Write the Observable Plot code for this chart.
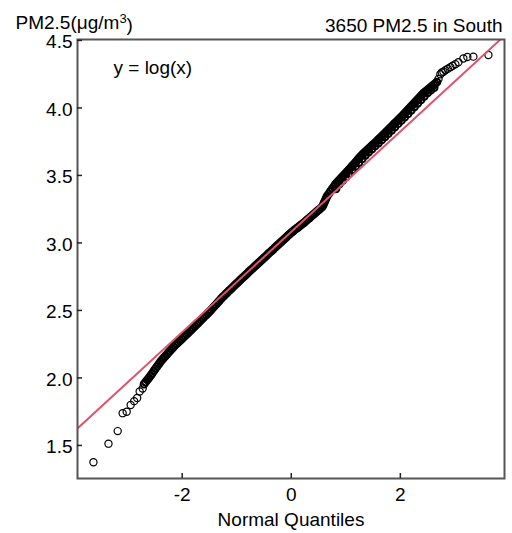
<!DOCTYPE html>
<html><head><meta charset="utf-8">
<script src="https://cdn.jsdelivr.net/npm/d3@7"></script>
<script src="https://cdn.jsdelivr.net/npm/@observablehq/plot@0.6"></script>
<style>body{margin:0;background:#fff;}</style>
</head><body><div id="chart"></div>
<script>
// Titles and labels
const yTitleMain = "PM2.5(μg/m";
const yTitleSup = "3";
const yTitleEnd = ")";
const mainTitle = "3650 PM2.5 in South";
const xTitle = "Normal Quantiles";
const noteText = "y = log(x)";

// Axis ticks
const xTicks = [-2, 0, 2];
const yTicks = [1.5, 2.0, 2.5, 3.0, 3.5, 4.0, 4.5];
const xDomain = [-3.92, 3.91];
const yDomain = [1.255, 4.507];

// Lower tail points (theoretical quantile, log PM2.5)
const lowX = [-3.628, -3.352, -3.183, -3.092, -3.018, -2.945, -2.881, -2.826, -2.780, -2.725];
const lowY = [1.375, 1.513, 1.606, 1.739, 1.750, 1.799, 1.828, 1.851, 1.899, 1.921];

// Dense central band
const bandX = [-2.70,-2.67,-2.64,-2.61,-2.58,-2.55,-2.52,-2.49,-2.46,-2.43,-2.40,-2.37,-2.34,-2.31,-2.28,-2.25,-2.22,-2.19,-2.16,-2.13,-2.10,-2.07,-2.04,-2.01,-1.98,-1.95,-1.92,-1.89,-1.86,-1.83,-1.80,-1.77,-1.74,-1.71,-1.68,-1.65,-1.62,-1.59,-1.56,-1.53,-1.50,-1.47,-1.44,-1.41,-1.38,-1.35,-1.32,-1.29,-1.26,-1.23,-1.20,-1.17,-1.14,-1.11,-1.08,-1.05,-1.02,-0.99,-0.96,-0.93,-0.90,-0.87,-0.84,-0.81,-0.78,-0.75,-0.72,-0.69,-0.66,-0.63,-0.60,-0.57,-0.54,-0.51,-0.48,-0.45,-0.42,-0.39,-0.36,-0.33,-0.30,-0.27,-0.24,-0.21,-0.18,-0.15,-0.12,-0.09,-0.06,-0.03,0.00,0.03,0.06,0.09,0.12,0.15,0.18,0.21,0.24,0.27,0.30,0.33,0.36,0.39,0.42,0.45,0.48,0.51,0.54,0.57,0.585,0.60,0.615,0.63,0.645,0.66,0.69,0.72,0.75,0.78,0.81,0.84,0.87,0.90,0.93,0.96,0.99,1.02,1.05,1.08,1.11,1.14,1.17,1.20,1.23,1.26,1.29,1.32,1.35,1.38,1.41,1.44,1.47,1.50,1.53,1.56,1.59,1.62,1.65,1.68,1.71,1.74,1.77,1.80,1.83,1.86,1.89,1.92,1.95,1.98,2.01,2.04,2.07,2.10,2.13,2.16,2.19,2.22,2.25,2.28,2.31,2.34,2.37,2.40,2.43,2.46,2.49,2.52,2.55,2.58,2.61,2.64,2.67];
const bandY = [1.954,1.970,1.985,2.001,2.017,2.034,2.052,2.069,2.086,2.102,2.119,2.133,2.148,2.162,2.175,2.189,2.202,2.216,2.229,2.243,2.254,2.266,2.277,2.288,2.300,2.311,2.323,2.334,2.346,2.358,2.370,2.382,2.394,2.406,2.418,2.431,2.443,2.455,2.467,2.479,2.491,2.504,2.518,2.531,2.544,2.558,2.571,2.585,2.598,2.610,2.622,2.634,2.646,2.657,2.669,2.681,2.693,2.704,2.716,2.728,2.740,2.751,2.762,2.773,2.785,2.796,2.807,2.818,2.830,2.841,2.852,2.863,2.875,2.886,2.897,2.908,2.920,2.931,2.942,2.953,2.965,2.976,2.987,2.998,3.010,3.021,3.032,3.043,3.055,3.066,3.077,3.086,3.096,3.105,3.114,3.124,3.133,3.143,3.153,3.164,3.174,3.184,3.195,3.205,3.216,3.226,3.237,3.247,3.257,3.268,3.281,3.295,3.308,3.322,3.336,3.349,3.366,3.384,3.401,3.418,3.435,3.448,3.461,3.474,3.487,3.500,3.513,3.526,3.539,3.553,3.567,3.580,3.594,3.608,3.622,3.636,3.649,3.662,3.673,3.684,3.695,3.706,3.718,3.729,3.740,3.751,3.763,3.774,3.786,3.798,3.810,3.822,3.834,3.846,3.858,3.871,3.883,3.895,3.907,3.919,3.931,3.943,3.956,3.969,3.982,3.995,4.008,4.021,4.034,4.047,4.060,4.073,4.086,4.098,4.111,4.121,4.131,4.141,4.151,4.161,4.171,4.181,4.191];

// Lower-right edge of the thick upper band
const edgeX = [0.82,0.88,0.94,1.00,1.06,1.12,1.18,1.24,1.30,1.36,1.42,1.48,1.54,1.60,1.66,1.72,1.78,1.84,1.90,1.96,2.02,2.08,2.14,2.20,2.26,2.32,2.38,2.44,2.50,2.56,2.62];
const edgeY = [3.401,3.435,3.461,3.487,3.513,3.539,3.567,3.594,3.622,3.649,3.673,3.695,3.718,3.740,3.763,3.786,3.810,3.834,3.858,3.883,3.907,3.931,3.956,3.982,4.008,4.034,4.060,4.086,4.111,4.131,4.151];

// Upper tail points
const highX = [2.70, 2.734, 2.76, 2.79, 2.826, 2.87, 2.917, 2.96, 3.009, 3.064, 3.156, 3.229, 3.339, 3.615];
const highY = [4.215, 4.250, 4.262, 4.268, 4.279, 4.290, 4.302, 4.313, 4.324, 4.339, 4.366, 4.377, 4.380, 4.392];

// Reference (qq) line endpoints
const lineX = [-3.92, 3.91];
const lineY = [1.626, 4.535];

const tailX = [...lowX, ...highX];
const tailY = [...lowY, ...highY];
const denseX = [...bandX, ...edgeX];
const denseY = [...bandY, ...edgeY];

const font = "'Liberation Sans', Arial, Helvetica, sans-serif";

const chart = Plot.plot({
  width: 512,
  height: 533,
  marginTop: 39,
  marginRight: 8,
  marginBottom: 55,
  marginLeft: 77,
  style: {fontFamily: font, fontSize: "19px", background: "#fff", color: "#000", overflow: "visible"},
  x: {domain: xDomain},
  y: {domain: yDomain},
  marks: [
    Plot.dot(denseX, {x: denseX, y: denseY, r: 3.4, stroke: "#000", strokeWidth: 2, fill: "none"}),
    Plot.dot(tailX, {x: tailX, y: tailY, r: 3.6, stroke: "#000", strokeWidth: 1.2, fill: "none"}),
    Plot.line(lineX, {x: lineX, y: lineY, stroke: "#DF536B", strokeWidth: 2, clip: true}),
    Plot.frame({stroke: "#555", strokeWidth: 2}),
    Plot.ruleX(xTicks, {x: d => d, insetTop: 434, stroke: "#222", strokeWidth: 1.5}),
    Plot.ruleY(yTicks, {y: d => d, insetRight: 422, stroke: "#222", strokeWidth: 1.5}),
    Plot.axisX(xTicks, {tickSize: 0, tickPadding: 9, tickFormat: d => String(d), label: null, fontSize: 19}),
    Plot.axisY(yTicks, {tickSize: 0, tickPadding: 5, dy: 1.5, tickFormat: d3.format(".1f"), label: null, fontSize: 19}),
    Plot.text([yTitleMain], {text: d => d, frameAnchor: "top-left", dx: -62, dy: -11, lineAnchor: "bottom", textAnchor: "start", fontSize: 19}),
    Plot.text([mainTitle], {text: d => d, frameAnchor: "top-right", dx: -2, dy: -7.5, lineAnchor: "bottom", textAnchor: "end", fontSize: 19}),
    Plot.text([noteText], {text: d => d, frameAnchor: "top-left", dx: 36, dy: 34, lineAnchor: "bottom", textAnchor: "start", fontSize: 19}),
    Plot.text([xTitle], {text: d => d, frameAnchor: "bottom", dy: 47, lineAnchor: "bottom", textAnchor: "middle", fontSize: 19})
  ]
});
// add superscript and closing parenthesis to the y title
d3.select(chart).selectAll("text").filter(function() { return this.textContent === yTitleMain; })
  .each(function() {
    const t = d3.select(this);
    t.append("tspan").attr("dy", "-0.45em").attr("font-size", "13px").text(yTitleSup);
    t.append("tspan").attr("dy", "0.45em").text(yTitleEnd);
  });
document.getElementById("chart").appendChild(chart);
</script>
</body></html>
